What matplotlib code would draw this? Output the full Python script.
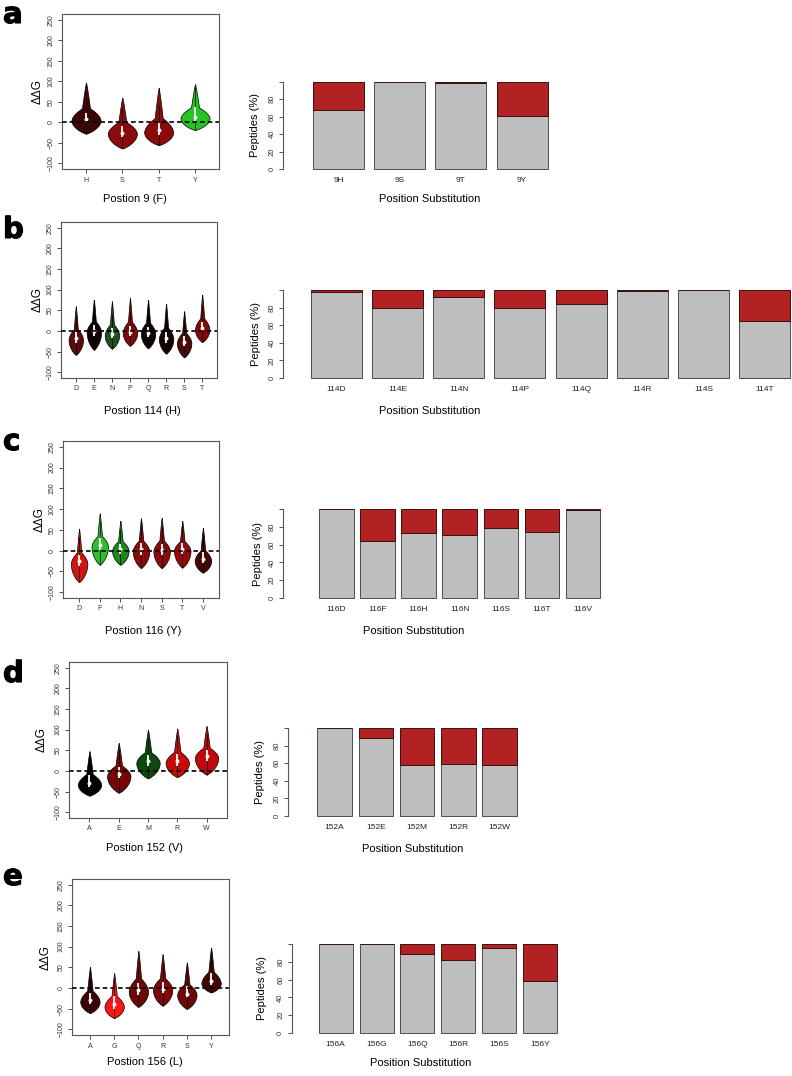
import numpy as np
import matplotlib.pyplot as plt
import matplotlib.patheffects as pe

plt.rcParams['font.family'] = ['Liberation Sans', 'DejaVu Sans']

## Data
positions = [9, 114, 116, 152, 156]
wild_type = ['F', 'H', 'Y', 'V', 'L']
panel_tags = ['a', 'b', 'c', 'd', 'e']

# substitutions tested at each position
a_subs = ['H', 'S', 'T', 'Y']
b_subs = ['D', 'E', 'N', 'P', 'Q', 'R', 'S', 'T']
c_subs = ['D', 'F', 'H', 'N', 'S', 'T', 'V']
d_subs = ['A', 'E', 'M', 'R', 'W']
e_subs = ['A', 'G', 'Q', 'R', 'S', 'Y']

# violin summaries of ddG: [min, mode, max, q1, median, q3]
a_ddg = [[-28, 5, 97, -3, 9, 22], [-64, -27, 60, -37, -25, -8],
         [-56, -24, 84, -32, -18, -2], [-19, 10, 93, 3, 14, 36]]
b_ddg = [[-58, -21, 60, -28, -16, -3], [-46, -2, 76, -12, 1, 14],
         [-43, -10, 72, -18, -8, 6], [-36, -4, 80, -12, -2, 12],
         [-42, -6, 76, -15, -4, 10], [-55, -19, 66, -28, -17, -2],
         [-64, -29, 48, -36, -27, -12], [-27, 4, 88, -3, 8, 22]]
c_ddg = [[-76, -31, 53, -38, -26, -10], [-34, 10, 90, 2, 13, 30],
         [-34, 0, 72, -8, 3, 16], [-42, -1, 78, -10, 3, 18],
         [-42, -1, 79, -10, 2, 17], [-41, 0, 72, -9, 3, 18],
         [-53, -24, 55, -30, -19, -3]]
d_ddg = [[-60, -33, 48, -38, -28, -10], [-53, -12, 68, -18, -7, 10],
         [-18, 20, 100, 12, 24, 38], [-15, 20, 103, 12, 25, 42],
         [-9, 32, 109, 24, 36, 50]]
e_ddg = [[-61, -33, 51, -38, -30, -12], [-73, -45, 36, -50, -40, -20],
         [-46, -8, 90, -16, -6, 12], [-43, -4, 82, -12, -2, 15],
         [-51, -16, 62, -22, -14, 4], [-11, 12, 98, 6, 16, 36]]

a_col = ['#3c0606', '#8b0b0b', '#8b0b0b', '#22c322']
b_col = ['#5c0a0a', '#0a0000', '#1c4f1c', '#800a0a', '#0a0000', '#160202', '#4a0808', '#820a0a']
c_col = ['#d01414', '#2bc02b', '#1b8a1b', '#8a0a0a', '#8a0a0a', '#950a0a', '#460505']
d_col = ['#000000', '#780505', '#0c4a0c', '#c80a0a', '#c00a0a']
e_col = ['#3a0505', '#ff1414', '#6e0808', '#7c0808', '#6e0808', '#420606']

# peptides (%) in the grey part of each bar, the rest is red
a_pep = [68, 100, 98.5, 61]
b_pep = [97.5, 80, 92.5, 79, 84, 98.5, 100, 64.5]
c_pep = [100, 63.5, 73, 70.5, 78.5, 74, 98.5]
d_pep = [100, 89, 58.5, 59.5, 57.5]
e_pep = [100, 100, 89, 81.5, 95.5, 58.5]

subs = [a_subs, b_subs, c_subs, d_subs, e_subs]
ddg = [a_ddg, b_ddg, c_ddg, d_ddg, e_ddg]
cols = [a_col, b_col, c_col, d_col, e_col]
pep = [a_pep, b_pep, c_pep, d_pep, e_pep]

## Layout in pixels (figure is 792 x 1076)
W, H = 792, 1076
vio_box = [(62, 14, 219, 169), (61, 222, 217, 378), (63, 441, 219, 598),
           (69, 662, 227, 818), (72, 879, 229, 1035)]
# bar panels: axis x, zero x, px per bar unit, right edge, y of 100, y of 0
bar_geo = [(283, 302.8, 51, 560, 81.7, 169), (283, 300.5, 51, 792, 290, 378),
           (283, 312.5, 34.2, 605, 509, 598), (288, 310.4, 34.4, 560, 728, 816),
           (291.7, 311.9, 34, 600, 944, 1033)]
tag_base = [23, 238, 450, 682, 885]
vio_xlab = [(135, 199), (142, 411), (143, 631), (144, 848), (145, 1062)]
bar_xlab = [(430, 199), (430, 411), (414, 631), (413, 849), (421, 1063)]
ylab_x = [38, 38, 40, 42, 46]
pep_ylab_x = [255, 256, 258, 260, 262]


def add_px_axes(fig, x0, y0, x1, y1):
    return fig.add_axes([x0 / W, 1 - y1 / H, (x1 - x0) / W, (y1 - y0) / H])


def violin_shape(lo, mode, hi):
    # bulb below the mode, a short shoulder and a long thin tail above it
    y = np.linspace(lo, hi, 400)
    u = np.clip((mode - y) / (mode - lo), 0, 1)
    t = np.clip((y - mode) / (hi - mode), 0, 1)
    low = (1 - u ** 2) ** 0.85
    shoulder = np.clip(1 - (t / 0.32) ** 2, 0, 1) ** 1.1
    up = 0.62 * shoulder + 0.38 * (1 - t) ** 0.85
    return y, np.where(y <= mode, low, up)


fig = plt.figure(figsize=(W / 100, H / 100), dpi=100)

for k in range(5):
    n = len(subs[k])
    pos = np.arange(1, n + 1)

    # ---- violin panel
    ax = add_px_axes(fig, *vio_box[k])
    stats = []
    for lo, mode, hi, q1, med, q3 in ddg[k]:
        y, d = violin_shape(lo, mode, hi)
        stats.append(dict(coords=y, vals=d, mean=med, median=med, min=lo, max=hi))
    parts = ax.violin(stats, positions=pos, widths=0.8, showmeans=False,
                      showextrema=False, showmedians=False)
    for body, c in zip(parts['bodies'], cols[k]):
        body.set_facecolor(c)
        body.set_edgecolor('black')
        body.set_linewidth(0.5)
        body.set_alpha(1)
    st = np.array(ddg[k], dtype=float)
    iqr = st[:, 5] - st[:, 3]
    wlo = np.maximum(st[:, 0], st[:, 3] - 1.5 * iqr)
    whi = np.minimum(st[:, 2], st[:, 5] + 1.5 * iqr)
    ax.vlines(pos, wlo, whi, color='black', lw=0.5, zorder=3)
    ax.vlines(pos, st[:, 3], st[:, 5], color='white', lw=1.3, zorder=4)
    ax.scatter(pos, st[:, 4], s=8, color='white', zorder=5, linewidths=0)
    ax.axhline(0, color='black', lw=1.2, ls=(0, (2.8, 1.8)), zorder=6)
    ax.set_xlim(0.5 - 0.04 * n, n + 0.5 + 0.04 * n)
    ax.set_ylim(-114, 264)
    ax.set_xticks(pos)
    ax.set_xticklabels(subs[k])
    ax.set_yticks(np.arange(-100, 251, 50))
    ax.tick_params(axis='both', direction='out', length=2.9, width=0.6,
                   labelsize=5, pad=2.5, colors='#333333')
    ax.tick_params(axis='y', labelrotation=90)
    for lab in ax.get_yticklabels():
        lab.set_va('center')
    for sp in ax.spines.values():
        sp.set_color('#555555')
        sp.set_linewidth(0.8)
    bx0, by0, bx1, by1 = vio_box[k]
    fig.text(ylab_x[k] / W, 1 - (by0 + by1) / 2 / H, '\u0394\u0394G', rotation=90,
             ha='center', va='center', fontsize=8.5)
    fig.text(vio_xlab[k][0] / W, 1 - vio_xlab[k][1] / H,
             'Postion %d (%s)' % (positions[k], wild_type[k]),
             ha='center', va='center', fontsize=8)
    fig.text(3 / W, 1 - tag_base[k] / H, panel_tags[k], fontsize=21,
             fontweight='bold', family='DejaVu Sans', va='baseline', ha='left',
             path_effects=[pe.withStroke(linewidth=0.8, foreground='black')])

    # ---- stacked bar panel
    axx, zx, unit, xr, ytop, ybot = bar_geo[k]
    s = (ybot - ytop) / 100.0
    bax = add_px_axes(fig, axx, ytop - 4 * s, xr, ybot + 4 * s)
    centers = 0.7 + 1.2 * np.arange(n)
    grey = np.array(pep[k], dtype=float)
    bax.bar(centers, grey, width=1, color='#bebebe', edgecolor='#4d4d4d', lw=0.7)
    bax.bar(centers, 100 - grey, bottom=grey, width=1, color='#b22222',
            edgecolor='#3a1010', lw=0.7)
    bax.set_xlim((axx - zx) / unit, (xr - zx) / unit)
    bax.set_ylim(-4, 104)
    for side in ['top', 'right', 'bottom']:
        bax.spines[side].set_visible(False)
    bax.spines['left'].set_bounds(0, 100)
    bax.spines['left'].set_color('#555555')
    bax.spines['left'].set_linewidth(0.8)
    bax.set_yticks([0, 20, 40, 60, 80, 100])
    bax.set_yticklabels(['0', '20', '40', '60', '80', ''])
    bax.set_xticks(centers)
    bax.set_xticklabels(['%d%s' % (positions[k], a) for a in subs[k]])
    bax.tick_params(axis='y', direction='out', length=2.9, width=0.6,
                    labelsize=5.5, pad=2.5, colors='#333333', labelrotation=90)
    for lab in bax.get_yticklabels():
        lab.set_va('center')
    bax.tick_params(axis='x', length=0, labelsize=6, pad=3, colors='#222222')
    fig.text(pep_ylab_x[k] / W, 1 - (ytop + ybot) / 2 / H, 'Peptides (%)',
             rotation=90, ha='center', va='center', fontsize=8)
    fig.text(bar_xlab[k][0] / W, 1 - bar_xlab[k][1] / H, 'Position Substitution',
             ha='center', va='center', fontsize=8)

fig.savefig('out.png', dpi=100)
